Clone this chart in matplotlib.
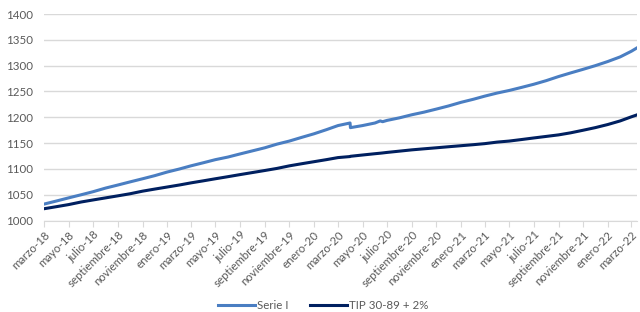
import pandas as pd
import matplotlib
matplotlib.use('Agg')
import matplotlib.pyplot as plt
import matplotlib.dates as mdates

# values (monthly, plus a few extra days around the jumps)
dates = ['2018-03-01', '2018-04-01', '2018-05-01', '2018-06-01', '2018-07-01', '2018-08-01',
         '2018-09-01', '2018-10-01', '2018-11-01', '2018-12-01', '2019-01-01', '2019-02-01',
         '2019-03-01', '2019-04-01', '2019-05-01', '2019-06-01', '2019-07-01', '2019-08-01',
         '2019-09-01', '2019-10-01', '2019-11-01', '2019-12-01', '2020-01-01', '2020-02-01',
         '2020-03-01', '2020-03-31', '2020-04-01', '2020-05-01', '2020-06-01', '2020-06-14',
         '2020-06-20', '2020-07-01', '2020-08-01', '2020-09-01', '2020-10-01', '2020-11-01',
         '2020-12-01', '2021-01-01', '2021-02-01', '2021-03-01', '2021-04-01', '2021-05-01',
         '2021-06-01', '2021-07-01', '2021-08-01', '2021-09-01', '2021-10-01', '2021-11-01',
         '2021-12-01', '2022-01-01', '2022-02-01', '2022-03-01', '2022-03-16']
serie_i = [1032, 1038, 1044, 1050, 1056, 1063,
           1069, 1075, 1081, 1087, 1094, 1100,
           1106, 1112, 1118, 1123, 1129, 1135,
           1141, 1148, 1154, 1161, 1168, 1176,
           1184, 1189, 1180, 1184, 1189, 1193,
           1191.5, 1194, 1199, 1205, 1210, 1216,
           1222, 1229, 1235, 1241, 1247, 1252,
           1258, 1264, 1271, 1279, 1286, 1293,
           1300, 1308, 1317, 1328, 1335]
tip = [1023, 1027, 1031, 1036, 1040, 1044,
       1048, 1052, 1057, 1061, 1065, 1069,
       1073, 1077, 1081, 1085, 1089, 1093,
       1097, 1101, 1106, 1110, 1114, 1118,
       1122, 1124, 1124.5, 1127, 1129.5, 1130.5,
       1131, 1132, 1134.5, 1137, 1139, 1141,
       1143, 1145, 1147, 1149, 1152, 1154,
       1157, 1160, 1163, 1166, 1170, 1175,
       1180, 1186, 1193, 1201, 1205]
meses = ['enero', 'febrero', 'marzo', 'abril', 'mayo', 'junio', 'julio',
         'agosto', 'septiembre', 'octubre', 'noviembre', 'diciembre']

plt.rcParams['font.family'] = ['Lato', 'DejaVu Sans']
x = pd.to_datetime(dates)

fig = plt.figure(figsize=(6.4, 3.12), dpi=100)
ax = fig.add_axes([0.069, 0.293, 0.927, 0.662])

ax.plot(x, serie_i, color='#4a7ec2', lw=2.2, label='Serie I', zorder=3)
ax.plot(x, tip, color='#002060', lw=2.2, label='TIP 30-89 + 2%', zorder=3)

ticks = pd.date_range('2018-03-01', '2022-03-01', freq='2MS')
ax.set_xticks(ticks)
ax.set_xticklabels([f'{meses[t.month - 1]}-{t.year % 100}' for t in ticks],
                   rotation=45, ha='right', rotation_mode='anchor')
ax.set_xlim(x[0], x[-1])
ax.set_ylim(1000, 1400)
ax.set_yticks(range(1000, 1401, 50))

ax.grid(axis='y', color='#d9d9d9', lw=1)
ax.set_axisbelow(True)
for s in ['left', 'right', 'top']:
  ax.spines[s].set_visible(False)
ax.spines['bottom'].set_color('#d9d9d9')
ax.tick_params(axis='x', colors='#d9d9d9', labelcolor='#595959', labelsize=8.3, length=4, pad=2)
ax.tick_params(axis='y', length=0, labelcolor='#595959', labelsize=8.3, pad=8)

fig.legend(loc='lower center', bbox_to_anchor=(0.505, -0.03), ncol=2, frameon=False,
           fontsize=8.3, labelcolor='#595959', handlelength=3.2, columnspacing=1.8,
           handletextpad=0.2)

fig.savefig('out.png', dpi=100)
